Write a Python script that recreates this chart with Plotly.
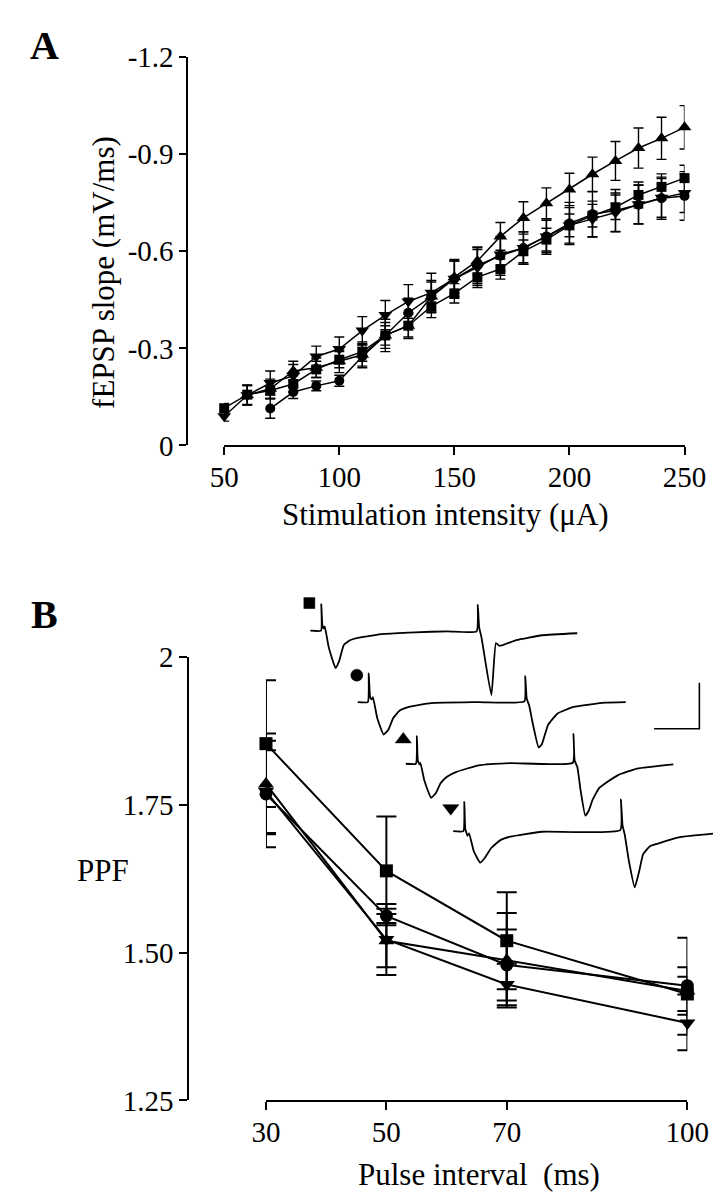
import plotly.graph_objects as go

W, H = 727, 1199
FONT = "Liberation Serif"

# ---------------- Panel A: fEPSP slope vs stimulation intensity ----------------
intensity = [50, 60, 70, 80, 90, 100, 110, 120, 130, 140, 150,
             160, 170, 180, 190, 200, 210, 220, 230, 240, 250]

a_square = [-0.115, -0.157, -0.17, -0.19, -0.235, -0.265, -0.29, -0.34, -0.37, -0.43, -0.47,
            -0.52, -0.545, -0.60, -0.636, -0.68, -0.71, -0.736, -0.774, -0.799, -0.826]
a_square_err = [0.015, 0.03, 0.025, 0.025, 0.025, 0.025, 0.03, 0.03, 0.035, 0.035, 0.03,
                0.032, 0.031, 0.035, 0.035, 0.035, 0.035, 0.038, 0.04, 0.04, 0.04]

a_circle_x = intensity[2:]
a_circle = [-0.114, -0.165, -0.184, -0.20, -0.275, -0.34, -0.41, -0.46, -0.515,
            -0.556, -0.586, -0.61, -0.646, -0.686, -0.714, -0.726, -0.744, -0.764, -0.771]
a_circle_err = [0.03, 0.02, 0.015, 0.017, 0.035, 0.05, 0.045, 0.05, 0.055,
                0.055, 0.06, 0.05, 0.055, 0.065, 0.07, 0.065, 0.06, 0.065, 0.075]

a_up_x = intensity[1:]
a_up = [-0.155, -0.175, -0.23, -0.24, -0.26, -0.28, -0.34, -0.37, -0.46, -0.52,
        -0.57, -0.646, -0.703, -0.748, -0.791, -0.838, -0.879, -0.919, -0.949, -0.983]
a_up_err = [0.03, 0.03, 0.03, 0.03, 0.035, 0.035, 0.04, 0.04, 0.045, 0.05,
            0.043, 0.043, 0.05, 0.048, 0.05, 0.053, 0.06, 0.062, 0.065, 0.067]

a_down = [-0.09, -0.155, -0.193, -0.215, -0.275, -0.298, -0.355, -0.403, -0.445, -0.472, -0.515,
          -0.55, -0.59, -0.61, -0.646, -0.68, -0.70, -0.72, -0.745, -0.765, -0.78]
a_down_err = [0.015, 0.03, 0.037, 0.035, 0.032, 0.037, 0.043, 0.045, 0.052, 0.06, 0.06,
              0.055, 0.05, 0.05, 0.05, 0.055, 0.055, 0.06, 0.06, 0.06, 0.06]

a_ticks = [0, -0.3, -0.6, -0.9, -1.2]
a_ticktext = ["0", "-0.3", "-0.6", "-0.9", "-1.2"]

# ---------------- Panel B: paired-pulse facilitation ----------------
interval = [30, 50, 70, 100]
b_square = [1.853, 1.638, 1.52, 1.43]
b_square_err = [0.107, 0.092, 0.082, 0.095]
b_circle = [1.768, 1.562, 1.479, 1.444]
b_circle_err = [0.09, 0.012, 0.06, 0.015]
b_up = [1.785, 1.52, 1.487, 1.435]
b_up_err = [0.085, 0.045, 0.08, 0.04]
b_down = [1.772, 1.522, 1.446, 1.381]
b_down_err = [0.07, 0.06, 0.035, 0.02]

b_ticks = [1.25, 1.5, 1.75, 2.0]
b_ticktext = ["1.25", "1.50", "1.75", "2"]

# ---------------- Inset: example paired-pulse recordings (ms, mV) ----------------
tr_square_t = [0, 2.37, 2.43, 2.68, 3.0, 3.2, 4.05, 5.58, 6.35, 7.4, 8.87, 10.5, 16.2, 23.1,
               30.3, 36.75, 37.0, 37.3, 37.8, 40.0, 41.0, 41.8, 45.5, 51.2, 58.97]
tr_square_v = [0, 0, 0.288, 0.056, 0.024, 0.045, -0.176, -0.405, -0.334, -0.155, -0.102, -0.078,
               -0.036, -0.018, -0.007, -0.007, 0.28, 0.035, -0.07, -0.70, -0.134, -0.166,
               -0.102, -0.05, -0.028]

tr_circle_t = [0, 2.23, 2.43, 2.73, 3.06, 3.35, 4.32, 5.72, 6.77, 7.82, 9.22, 11.3, 16.2, 26.7,
               36.8, 37.0, 37.33, 37.86, 38.57, 39.96, 40.67, 42.06, 44.15, 47.65, 54.63, 59.2]
tr_circle_v = [0, 0, 0.31, 0.053, 0.029, 0.053, -0.176, -0.352, -0.299, -0.176, -0.095, -0.053,
               -0.011, 0, 0.007, 0.282, 0.036, -0.035, -0.211, -0.492, -0.457, -0.246, -0.123,
               -0.053, -0.007, 0]

tr_up_t = [0, 2.24, 2.45, 2.66, 3.02, 3.23, 4.07, 5.6, 6.65, 7.69, 9.1, 11.2, 16.1, 23.1, 36.9,
           37.04, 37.3, 37.9, 38.6, 39.66, 40.4, 41.3, 42.7, 44.1, 46.9, 51.1, 59.1]
tr_up_v = [0, 0, 0.299, 0.035, -0.007, 0.01, -0.176, -0.37, -0.317, -0.211, -0.141, -0.088,
           -0.018, 0.007, 0.011, 0.324, 0.035, -0.035, -0.282, -0.563, -0.51, -0.387, -0.264,
           -0.211, -0.123, -0.053, -0.007]

tr_down_t = [0, 2.24, 2.45, 2.66, 3.14, 3.5, 4.55, 5.95, 7.0, 8.39, 10.5, 12.6, 19.6, 36.9,
             37.04, 37.4, 37.9, 38.8, 40.1, 41.1, 41.95, 43.4, 44.9, 50.1, 57.4]
tr_down_v = [0, 0, 0.317, 0.028, -0.05, -0.025, -0.218, -0.342, -0.289, -0.183, -0.095, -0.06,
             -0.007, 0.011, 0.344, 0.063, -0.042, -0.324, -0.61, -0.43, -0.25, -0.166, -0.14,
             -0.066, -0.028]

# start of each sweep (staggered display) and symbol label positions
sweep_t0 = [4.76, 15.24, 25.85, 36.33]
sweep_v0 = [2.922, 2.147, 1.478, 0.747]
label_t = [4.55, 15.03, 25.30, 35.79]
label_v = [3.221, 2.439, 1.742, 0.996]
label_symbols = ["square", "circle", "triangle-up", "triangle-down"]
scale_ms, scale_mV = 10, 0.5
scale_corner = (90.7, 1.858)


def px_x(p):
    return p / W


def px_y(p):
    return 1 - p / H


fig = go.Figure()

err_a = dict(type="data", color="black", thickness=1.4, width=5)
series_a = [
    (intensity, a_square, a_square_err, "square", 10),
    (a_circle_x, a_circle, a_circle_err, "circle", 10),
    (a_up_x, a_up, a_up_err, "triangle-up", 12),
    (intensity, a_down, a_down_err, "triangle-down", 12),
]
for xs, ys, es, sym, sz in series_a:
    fig.add_trace(go.Scatter(
        x=xs, y=ys, mode="lines+markers", xaxis="x", yaxis="y",
        line=dict(color="black", width=1.5),
        marker=dict(symbol=sym, size=sz, color="black"),
        error_y=dict(err_a, array=es), cliponaxis=False, showlegend=False))

err_b = dict(type="data", color="black", thickness=2, width=10)
series_b = [
    (b_square, b_square_err, "square", 13),
    (b_circle, b_circle_err, "circle", 13),
    (b_up, b_up_err, "triangle-up", 14),
    (b_down, b_down_err, "triangle-down", 14),
]
for ys, es, sym, sz in series_b:
    fig.add_trace(go.Scatter(
        x=interval, y=ys, mode="lines+markers", xaxis="x2", yaxis="y2",
        line=dict(color="black", width=2),
        marker=dict(symbol=sym, size=sz, color="black"),
        error_y=dict(err_b, array=es), cliponaxis=False, showlegend=False))

# inset sweeps, each with its symbol
sweeps = [(tr_square_t, tr_square_v), (tr_circle_t, tr_circle_v),
          (tr_up_t, tr_up_v), (tr_down_t, tr_down_v)]
for (ts, vs), t0, v0, lt, lv, sym in zip(sweeps, sweep_t0, sweep_v0, label_t, label_v, label_symbols):
    fig.add_trace(go.Scatter(
        x=[t + t0 for t in ts], y=[v + v0 for v in vs], mode="lines",
        xaxis="x3", yaxis="y3", line=dict(color="black", width=1.8, shape="spline", smoothing=0.4),
        cliponaxis=False, showlegend=False))
    sz = 11 if sym == "square" else (12 if sym == "circle" else 14)
    fig.add_trace(go.Scatter(
        x=[lt], y=[lv], mode="markers", xaxis="x3", yaxis="y3",
        marker=dict(symbol=sym, size=sz, color="black", opacity=1,
                    line=dict(color="black", width=0.5)),
        cliponaxis=False, showlegend=False))

cx, cy = scale_corner
fig.add_trace(go.Scatter(
    x=[cx - scale_ms, cx, cx], y=[cy, cy, cy + scale_mV], mode="lines",
    xaxis="x3", yaxis="y3", line=dict(color="black", width=1.6),
    cliponaxis=False, showlegend=False))

axis_common = dict(showline=True, linecolor="black", linewidth=1.6, ticks="outside",
                   tickcolor="black", tickwidth=1.6, ticklen=8, showgrid=False,
                   zeroline=False, tickfont=dict(family=FONT, size=29, color="black"),
                   anchor="free", tickmode="array")

# inset axis: origin at pixel (280, 900); 4.77 px per ms, 94.7 px per mV
ins_px_ms, ins_px_mV = 4.77, 94.7
ins_l, ins_r, ins_t, ins_b = 270, 727, 570, 905

fig.update_layout(
    width=W, height=H, autosize=False,
    margin=dict(l=0, r=0, t=0, b=0),
    paper_bgcolor="white", plot_bgcolor="rgba(0,0,0,0)",
    font=dict(family=FONT, color="black"),
    xaxis=dict(axis_common, domain=[px_x(212), px_x(697)], range=[50, 250],
               position=px_y(434), tickvals=[50, 100, 150, 200, 250], ticklabelstandoff=-3),
    yaxis=dict(axis_common, domain=[px_y(433), px_y(34)], range=[0, -1.2],
               position=px_x(173), tickvals=a_ticks, ticktext=a_ticktext, ticklen=7),
    xaxis2=dict(axis_common, domain=[px_x(256), px_x(700)], range=[30, 100],
                position=px_y(1107), tickvals=interval, ticklabelstandoff=-3),
    yaxis2=dict(axis_common, domain=[px_y(1106), px_y(650)], range=[1.25, 2.0],
                position=px_x(174), tickvals=b_ticks, ticktext=b_ticktext),
    xaxis3=dict(visible=False, domain=[px_x(ins_l), px_x(ins_r)],
                range=[(ins_l - 280) / ins_px_ms, (ins_r - 280) / ins_px_ms], anchor="y3"),
    yaxis3=dict(visible=False, domain=[px_y(ins_b), px_y(ins_t)],
                range=[(900 - ins_b) / ins_px_mV, (900 - ins_t) / ins_px_mV], anchor="x3"),
)

title_font = dict(family=FONT, size=31, color="black")
annots = [
    dict(text="<b>A</b>", x=px_x(23), y=px_y(22), font=dict(family=FONT, size=40, color="black")),
    dict(text="<b>B</b>", x=px_x(23), y=px_y(607), font=dict(family=FONT, size=40, color="black")),
    dict(text="Stimulation intensity (\u03bcA)", x=px_x(445), y=px_y(504), font=title_font),
    dict(text="fEPSP slope (mV/ms)", x=px_x(84), y=px_y(255), textangle=-90, font=title_font),
    dict(text="Pulse interval  (ms)", x=px_x(480), y=px_y(1182), font=title_font),
    dict(text="PPF", x=px_x(84), y=px_y(870), font=title_font),
]
for a in annots:
    fig.add_annotation(xref="paper", yref="paper", showarrow=False,
                       xanchor="center", yanchor="middle", **a)

fig.write_html("out.html")
